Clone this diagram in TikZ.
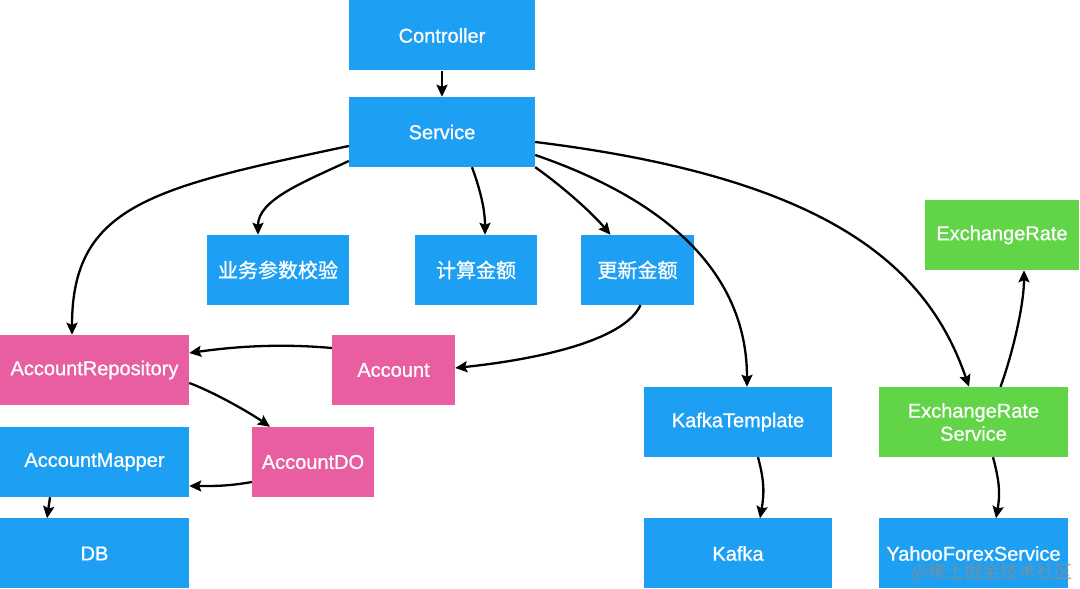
\documentclass[tikz,border=0pt]{standalone}
\usepackage{fontspec}
\setmainfont{Liberation Sans}
\newfontfamily\boxfont{Liberation Sans}[FakeBold=0.9]
\newfontfamily\cjk{Noto Sans CJK SC}[FakeBold=0.9]
\newfontfamily\cjkmark{Noto Sans CJK SC}
\usepackage{tikz}
\usetikzlibrary{arrows.meta}
\definecolor{boxblue}{RGB}{29,159,243}
\definecolor{boxpink}{RGB}{232,94,160}
\definecolor{boxgreen}{RGB}{98,212,72}

\begin{document}
\begin{tikzpicture}[x=1pt, y=1pt,
    box/.style={minimum height=70pt, inner sep=0pt, text=white, align=center, font=\boxfont\fontsize{20}{23}\selectfont},
    bluebox/.style={box, fill=boxblue},
    pinkbox/.style={box, fill=boxpink},
    greenbox/.style={box, fill=boxgreen},
    link/.style={line width=2.3pt, -{Stealth[length=12pt, width=11pt, inset=2pt]}}]
   \useasboundingbox (0,0) rectangle (1080,589);

   \node[bluebox, minimum width=186pt] (ctrl) at (442,553.5) {Controller};
   \node[bluebox, minimum width=186pt] (svc) at (442,457) {Service};
   \node[bluebox, minimum width=142pt] (chk) at (278,319) {\cjk 业务参数校验};
   \node[bluebox, minimum width=122pt] (calc) at (476,319) {\cjk 计算金额};
   \node[bluebox, minimum width=113pt] (upd) at (637.5,319) {\cjk 更新金额};
   \node[greenbox, minimum width=154pt] (rate) at (1002,354) {ExchangeRate};
   \node[pinkbox, minimum width=189pt] (repo) at (94.5,219) {AccountRepository};
   \node[pinkbox, minimum width=123pt] (acct) at (393.5,219) {Account};
   \node[bluebox, minimum width=188pt] (ktpl) at (738,167) {KafkaTemplate};
   \node[greenbox, minimum width=189pt] (rsvc) at (973.5,167) {ExchangeRate\\Service};
   \node[bluebox, minimum width=189pt] (mapper) at (94.5,127) {AccountMapper};
   \node[pinkbox, minimum width=122pt] (ado) at (313,127) {AccountDO};
   \node[bluebox, minimum width=189pt] (db) at (94.5,35.5) {DB};
   \node[bluebox, minimum width=188pt] (kafka) at (738,35.5) {Kafka};
   \node[bluebox, minimum width=189pt] (yahoo) at (973.5,35.5) {YahooForexService};

   \draw[link] (ctrl) -- (svc);
   \draw[link] ([yshift=-14pt]svc.west) to[out=192, in=90, out distance=200pt, in distance=130pt] ([xshift=-22.5pt]repo.north);
   \draw[link] ([yshift=-29pt]svc.west) to[out=205, in=90, out distance=50pt, in distance=35pt] ([xshift=-20pt]chk.north);
   \draw[link] ([xshift=30pt]svc.south) to[out=-70, in=90, out distance=25pt, in distance=25pt] ([xshift=9pt]calc.north);
   \draw[link] (svc.south east) to[out=-35, in=130, out distance=30pt, in distance=30pt] ([xshift=-27pt]upd.north);
   \draw[link] ([yshift=-23pt]svc.east) to[out=-19, in=90, out distance=160pt, in distance=100pt] ([xshift=9pt]ktpl.north);
   \draw[link] ([yshift=-10pt]svc.east) to[out=-7, in=109, out distance=300pt, in distance=125pt] ([xshift=-4.5pt]rsvc.north);
   \draw[link] ([xshift=27pt]rsvc.north) to[out=70, in=-90, out distance=35pt, in distance=35pt] ([xshift=22pt]rate.south);

   \draw[link] ([xshift=3pt]upd.south) to[out=-115, in=6, out distance=40pt, in distance=80pt] ([yshift=2pt]acct.east);
   \draw[link] ([yshift=22pt]acct.west) to[out=175, in=8, out distance=50pt, in distance=50pt] ([yshift=17pt]repo.east);
   \draw[link] ([yshift=-13pt]repo.east) to[out=-20, in=145, out distance=25pt, in distance=25pt] ([xshift=-43pt]ado.north);
   \draw[link] ([yshift=-20pt]ado.west) to[out=190, in=0, out distance=25pt, in distance=25pt] ([yshift=-24pt]mapper.east);
   \draw[link] ([xshift=-44.5pt]mapper.south) -- ([xshift=-47.5pt]db.north);

   \draw[link] ([xshift=20pt]ktpl.south) to[out=-75, in=80, out distance=25pt, in distance=25pt] ([xshift=22pt]kafka.north);
   \draw[link] ([xshift=19.5pt]rsvc.south) to[out=-75, in=80, out distance=25pt, in distance=25pt] ([xshift=22.5pt]yahoo.north);

   \node[text=gray!90, opacity=0.8, font=\cjkmark\fontsize{18}{18}\selectfont] (wm) at (992,17) {@稀土掘金技术社区};
\end{tikzpicture}
\end{document}
